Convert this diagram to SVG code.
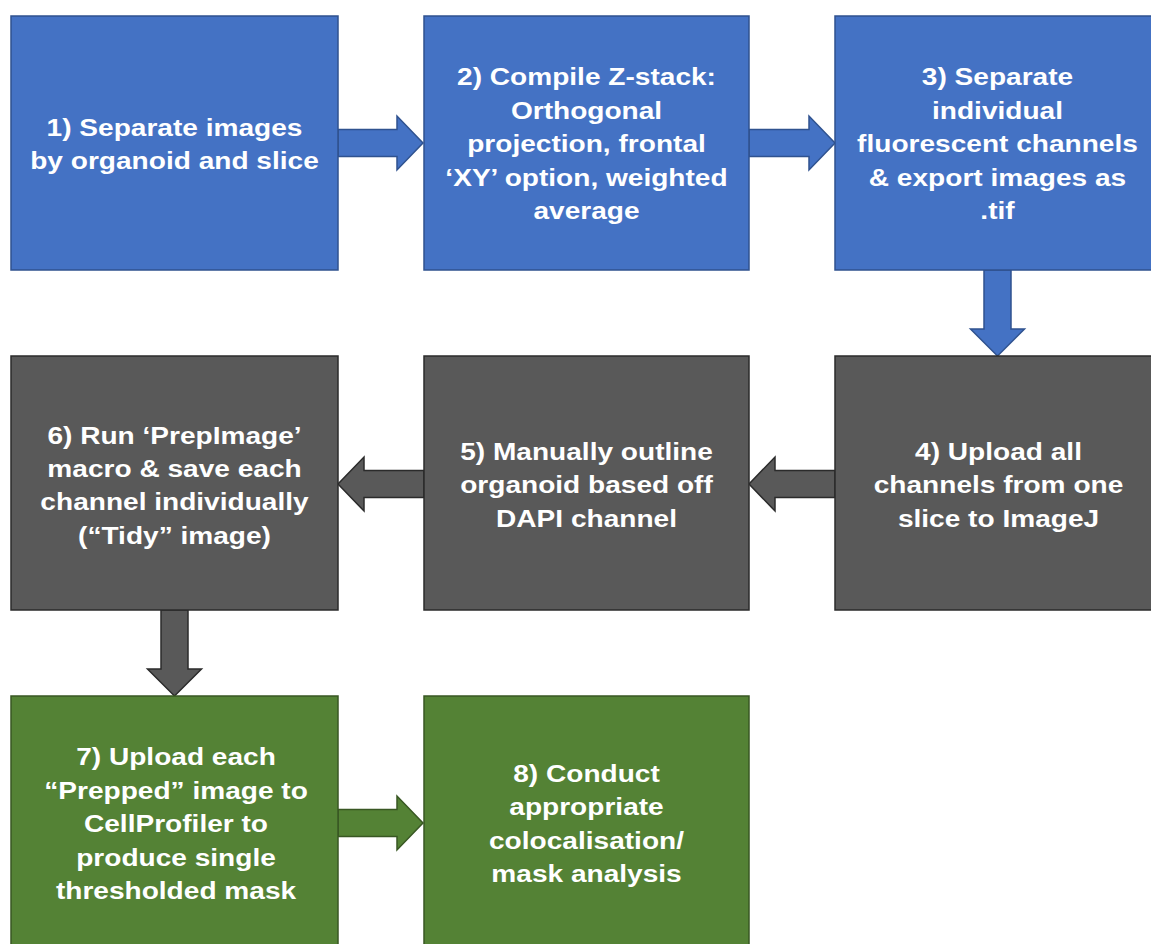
<svg xmlns="http://www.w3.org/2000/svg" width="1151" height="944" viewBox="0 0 1151 944">
<style>
.blue{fill:#4472C4;stroke:#2F528F;stroke-width:1.5}
.grey{fill:#595959;stroke:#2B2B2B;stroke-width:1.5}
.green{fill:#548235;stroke:#385723;stroke-width:1.5}
.t{font-family:"Liberation Sans",Arial,sans-serif;font-weight:bold;font-size:24px;fill:#FFFFFF;text-anchor:middle}
</style>
<rect width="1151" height="944" fill="#FFFFFF"/>
<g id="connectors">
<polygon class="blue" points="338,129.5 397,129.5 397,116 423,143 397,170 397,156.5 338,156.5"/>
<polygon class="blue" points="749,129.5 809,129.5 809,116 835,143 809,170 809,156.5 749,156.5"/>
<polygon class="blue" points="984,270 1011,270 1011,329 1024.5,329 997.5,356 970.5,329 984,329"/>
<polygon class="grey" points="835,470.5 775,470.5 775,457 749,484 775,511 775,497.5 835,497.5"/>
<polygon class="grey" points="424,470.5 364,470.5 364,457 338,484 364,511 364,497.5 424,497.5"/>
<polygon class="grey" points="161,610 188,610 188,669 201.5,669 174.5,696 147.5,669 161,669"/>
<polygon class="green" points="338,809.5 397,809.5 397,796 423,823 397,850 397,836.5 338,836.5"/>
</g>
<g id="n1">
<rect class="blue" x="11" y="16" width="327" height="254"/>
<g transform="translate(174.5,0) scale(1.17,1)">
<text class="t" x="0" y="136">1) Separate images</text>
<text class="t" x="0" y="169.5">by organoid and slice</text>
</g>
</g>
<g id="n2">
<rect class="blue" x="424" y="16" width="325" height="254"/>
<g transform="translate(586.5,0) scale(1.17,1)">
<text class="t" x="0" y="85.5">2) Compile Z-stack:</text>
<text class="t" x="0" y="119">Orthogonal</text>
<text class="t" x="0" y="152.5">projection, frontal</text>
<text class="t" x="0" y="186">‘XY’ option, weighted</text>
<text class="t" x="0" y="219.5">average</text>
</g>
</g>
<g id="n3">
<rect class="blue" x="835" y="16" width="327" height="254"/>
<g transform="translate(997.5,0) scale(1.17,1)">
<text class="t" x="0" y="85.5">3) Separate</text>
<text class="t" x="0" y="119">individual</text>
<text class="t" x="0" y="152.5">fluorescent channels</text>
<text class="t" x="0" y="186">&amp; export images as</text>
<text class="t" x="0" y="219.5">.tif</text>
</g>
</g>
<g id="n4">
<rect class="grey" x="835" y="356" width="327" height="254"/>
<g transform="translate(998.5,0) scale(1.17,1)">
<text class="t" x="0" y="460">4) Upload all</text>
<text class="t" x="0" y="493.5">channels from one</text>
<text class="t" x="0" y="527">slice to ImageJ</text>
</g>
</g>
<g id="n5">
<rect class="grey" x="424" y="356" width="325" height="254"/>
<g transform="translate(586.5,0) scale(1.17,1)">
<text class="t" x="0" y="460">5) Manually outline</text>
<text class="t" x="0" y="493.5">organoid based off</text>
<text class="t" x="0" y="527">DAPI channel</text>
</g>
</g>
<g id="n6">
<rect class="grey" x="11" y="356" width="327" height="254"/>
<g transform="translate(174.5,0) scale(1.17,1)">
<text class="t" x="0" y="443.5">6) Run ‘PrepImage’</text>
<text class="t" x="0" y="477">macro &amp; save each</text>
<text class="t" x="0" y="510.5">channel individually</text>
<text class="t" x="0" y="544">(“Tidy” image)</text>
</g>
</g>
<g id="n7">
<rect class="green" x="11" y="696" width="327" height="254"/>
<g transform="translate(176,0) scale(1.17,1)">
<text class="t" x="0" y="765.5">7) Upload each</text>
<text class="t" x="0" y="799">“Prepped” image to</text>
<text class="t" x="0" y="832.5">CellProfiler to</text>
<text class="t" x="0" y="866">produce single</text>
<text class="t" x="0" y="899.5">thresholded mask</text>
</g>
</g>
<g id="n8">
<rect class="green" x="424" y="696" width="325" height="254"/>
<g transform="translate(586.5,0) scale(1.17,1)">
<text class="t" x="0" y="782">8) Conduct</text>
<text class="t" x="0" y="815.5">appropriate</text>
<text class="t" x="0" y="849">colocalisation/</text>
<text class="t" x="0" y="882.5">mask analysis</text>
</g>
</g>
</svg>
